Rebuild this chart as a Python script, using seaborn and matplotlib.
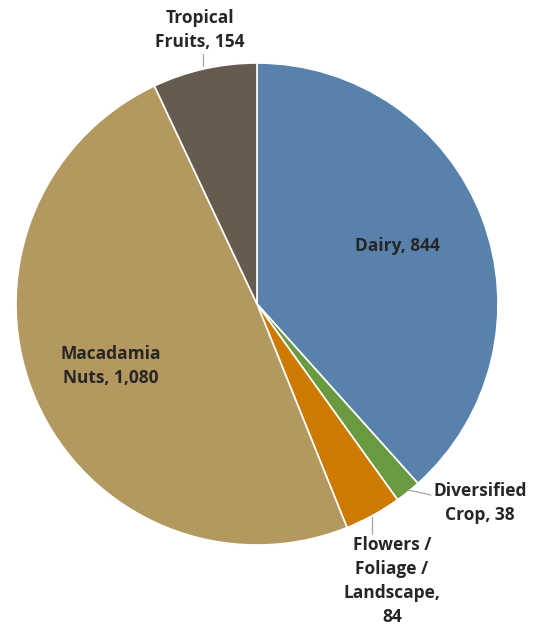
import matplotlib
matplotlib.use("Agg")
import matplotlib.pyplot as plt
import seaborn as sns

categories = ["Dairy", "Diversified Crop", "Flowers / Foliage / Landscape", "Macadamia Nuts", "Tropical Fruits"]
values = [844, 38, 84, 1080, 154]
labels = ["Dairy, 844", "Diversified\nCrop, 38", "Flowers /\nFoliage /\nLandscape,\n84",
          "Macadamia\nNuts, 1,080", "Tropical\nFruits, 154"]
colors = ["#5882AC", "#6A9A3F", "#CC7A00", "#B3985F", "#675B50"]

sns.set_theme(style="white")
plt.rcParams["font.family"] = ["Open Sans", "DejaVu Sans"]

W, H = 538, 626
fig = plt.figure(figsize=(W / 100, H / 100), dpi=100)
cx, cy, r = 257, 304, 241
ax = fig.add_axes([(cx - r) / W, (H - cy - r) / H, 2 * r / W, 2 * r / H])

ax.pie(values, colors=colors, startangle=90, counterclock=False, radius=1,
       wedgeprops=dict(edgecolor="white", linewidth=1.2))
ax.set_xlim(-1, 1)
ax.set_ylim(-1, 1)
ax.axis("off")


def to_data(px, py):
    return (px - cx) / r, (cy - py) / r


text_style = dict(fontsize=12.5, fontweight="bold", color="#262626",
                  ha="center", va="center", linespacing=1.45)

# in-slice labels
ax.text(*to_data(397, 246), labels[0], **text_style)
ax.text(*to_data(111, 366), labels[3], **text_style)

# outside labels with leader lines
ax.text(*to_data(480, 503), labels[1], clip_on=False, **text_style)
ax.text(*to_data(392, 581), labels[2], clip_on=False, **text_style)
ax.text(*to_data(200, 30), labels[4], clip_on=False, **text_style)

leader = dict(color="#A6A6A6", linewidth=0.9, clip_on=False)
for (x0, y0), (x1, y1) in [((408, 490), (431, 495)),
                           ((372, 517), (372, 534)),
                           ((203, 66), (203, 54))]:
    a, b = to_data(x0, y0)
    c, d = to_data(x1, y1)
    ax.plot([a, c], [b, d], **leader)

fig.savefig("out.png", dpi=100, facecolor="white")
